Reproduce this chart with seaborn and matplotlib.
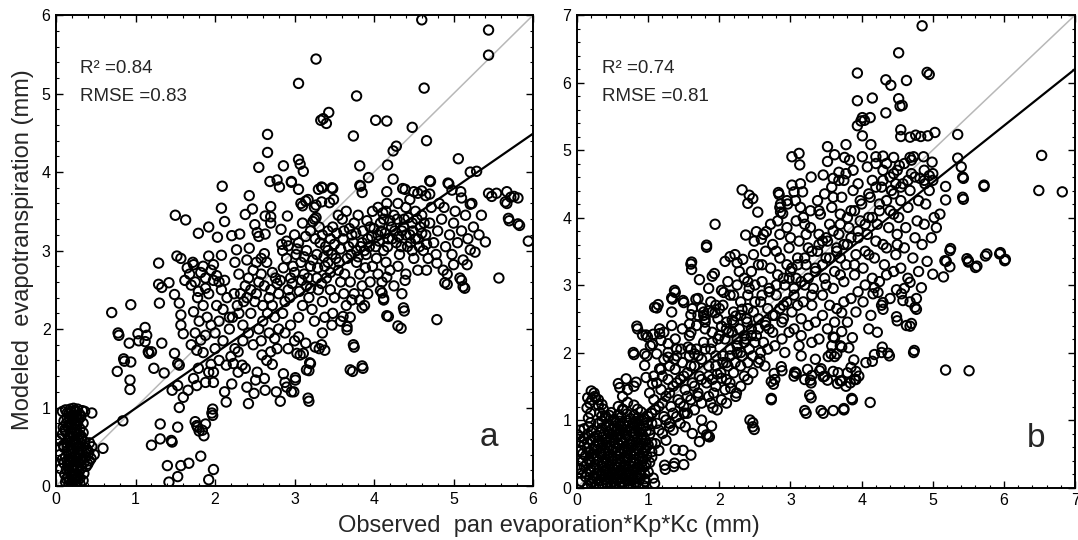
import numpy as np
import pandas as pd
import matplotlib

matplotlib.use("Agg")
import matplotlib.pyplot as plt
import seaborn as sns
from matplotlib.ticker import MultipleLocator

# Panel a: observed (x) vs modeled (y) ET
cluster_a = [
    (0.18, 0.98), (0.22, 0.99), (0.27, 0.98), (0.12, 0.97), (0.33, 0.96), (0.08, 0.95), (0.25, 0.94), (0.16, 0.92),
    (0.20, 0.90), (0.30, 0.91), (0.14, 0.87), (0.23, 0.86), (0.28, 0.84), (0.10, 0.83), (0.19, 0.81), (0.34, 0.80),
    (0.25, 0.78), (0.15, 0.76), (0.21, 0.74), (0.30, 0.73), (0.12, 0.70), (0.18, 0.69), (0.26, 0.68), (0.08, 0.66),
    (0.22, 0.64), (0.32, 0.63), (0.16, 0.61), (0.28, 0.60), (0.01, 0.58), (0.20, 0.57), (0.13, 0.55), (0.25, 0.54),
    (0.36, 0.56), (0.42, 0.55), (0.18, 0.52), (0.30, 0.51), (0.10, 0.49), (0.22, 0.48), (0.38, 0.48), (0.45, 0.50),
    (0.15, 0.45), (0.27, 0.44), (0.33, 0.43), (0.41, 0.42), (0.19, 0.41), (0.05, 0.40), (0.24, 0.38), (0.12, 0.37),
    (0.30, 0.36), (0.37, 0.37), (0.44, 0.35), (0.17, 0.34), (0.22, 0.32), (0.28, 0.30), (0.35, 0.30), (0.10, 0.29),
    (0.40, 0.28), (0.15, 0.27), (0.20, 0.25), (0.26, 0.24), (0.32, 0.23), (0.06, 0.22), (0.13, 0.21), (0.23, 0.20),
    (0.29, 0.18), (0.18, 0.17), (0.35, 0.16), (0.11, 0.15), (0.25, 0.14), (0.20, 0.12), (0.15, 0.11), (0.30, 0.10),
    (0.22, 0.09), (0.17, 0.07), (0.27, 0.06), (0.12, 0.05), (0.20, 0.04), (0.24, 0.02), (0.16, 0.01), (0.30, 0.03),
    (0.19, 0.02), (0.23, 0.55), (0.17, 0.63), (0.24, 0.72), (0.21, 0.85), (0.26, 0.90), (0.14, 0.50), (0.27, 0.50),
    (0.21, 0.45), (0.18, 0.30), (0.28, 0.40), (0.32, 0.60), (0.19, 0.95), (0.13, 0.80), (0.09, 0.75), (0.36, 0.95),
    (0.04, 0.60), (0.59, 0.48), (0.45, 0.93), (0.21, 0.20), (0.14, 0.93), (0.24, 0.96), (0.31, 0.88), (0.17, 0.86),
    (0.27, 0.79), (0.11, 0.72), (0.20, 0.67), (0.29, 0.66), (0.15, 0.58), (0.34, 0.68), (0.24, 0.59), (0.09, 0.52),
    (0.31, 0.47), (0.19, 0.47), (0.40, 0.45), (0.26, 0.35), (0.14, 0.32), (0.32, 0.33), (0.23, 0.27), (0.38, 0.25),
    (0.16, 0.22), (0.27, 0.21), (0.19, 0.14), (0.28, 0.13), (0.13, 0.09), (0.25, 0.08), (0.34, 0.07), (0.08, 0.34),
    (0.42, 0.32), (0.48, 0.40),
]

read_a = [
    (4.60, 5.94), (5.44, 5.81), (5.44, 5.49), (3.27, 5.44), (3.05, 5.13), (4.63, 5.07), (3.78, 4.97), (3.43, 4.76),
    (3.36, 4.68), (3.40, 4.62), (3.33, 4.66), (4.02, 4.66), (4.16, 4.65), (4.48, 4.57), (3.74, 4.46), (4.66, 4.40),
    (2.66, 4.48), (2.66, 4.25), (4.28, 4.33), (4.24, 4.27), (3.05, 4.16), (3.07, 4.10), (3.11, 4.01), (5.06, 4.17),
    (2.86, 4.08), (2.55, 4.06), (3.82, 4.08), (4.17, 4.09), (5.21, 4.00), (5.29, 4.01), (3.93, 3.93), (4.24, 3.91),
    (2.69, 3.88), (2.78, 3.90), (2.81, 3.81), (2.96, 3.87), (2.09, 3.82), (3.05, 3.78), (3.83, 3.82), (3.85, 3.74),
    (3.35, 3.80), (3.48, 3.79), (4.71, 3.88), (4.94, 3.85), (4.39, 3.78), (2.43, 3.70), (5.67, 3.75), (5.72, 3.68),
    (5.44, 3.73), (5.48, 3.69), (5.54, 3.73), (5.76, 3.69), (5.65, 3.62), (5.81, 3.67), (5.70, 3.38), (5.83, 3.32),
    (5.94, 3.12), (5.10, 3.67), (5.23, 3.60), (3.14, 3.63), (3.17, 3.65), (3.49, 3.65), (3.44, 3.61), (1.50, 3.45),
    (1.63, 3.39), (2.08, 3.54), (2.12, 3.37), (2.38, 3.46), (2.47, 3.53), (2.70, 3.56), (2.63, 3.44), (2.70, 3.43),
    (2.70, 3.35), (2.91, 3.44), (3.23, 3.37), (3.27, 3.42), (2.50, 3.33), (2.53, 3.23), (2.55, 3.18), (2.63, 3.21),
    (2.83, 3.27), (1.92, 3.30), (1.79, 3.22), (2.03, 3.17), (2.21, 3.19), (2.31, 3.21), (2.84, 3.08), (2.92, 3.06),
    (2.27, 3.01), (2.43, 3.03), (2.62, 2.96), (1.92, 2.93), (1.52, 2.93), (1.57, 2.90), (1.29, 2.84), (2.08, 2.94),
    (2.40, 2.88), (1.73, 2.82), (0.79, 1.92), (0.70, 2.21), (0.94, 2.31), (0.92, 1.82), (1.03, 1.94), (1.12, 2.02),
    (1.14, 1.92), (1.12, 1.84), (0.77, 1.46), (0.86, 1.59), (0.94, 1.58), (0.93, 1.35), (0.93, 1.23), (1.17, 1.69),
    (1.20, 1.71), (1.23, 1.50), (1.36, 1.44), (1.33, 1.82), (1.49, 1.69), (1.53, 1.56), (1.55, 1.54), (1.29, 2.57),
    (1.33, 2.53), (1.30, 2.33), (1.42, 2.59), (1.49, 2.44), (1.55, 2.33), (1.57, 2.18), (1.57, 2.05), (1.60, 1.94),
    (1.73, 2.22), (1.70, 2.56), (1.79, 2.48), (1.46, 1.22), (1.53, 1.28), (1.55, 1.00), (1.60, 1.13), (1.66, 1.22),
    (1.73, 1.37), (1.77, 1.28), (1.79, 1.50), (1.77, 1.73), (1.82, 1.86), (1.88, 1.92), (1.88, 1.32), (1.92, 1.45),
    (1.98, 1.45), (1.98, 1.32), (1.97, 0.98), (1.97, 0.90), (1.77, 0.77), (1.84, 0.71), (1.86, 0.64), (1.88, 0.79),
    (1.31, 0.79), (1.31, 0.60), (1.20, 0.52), (1.46, 0.56), (1.53, 0.75), (1.82, 0.38), (1.40, 0.26), (1.57, 0.26),
    (1.67, 0.29), (1.42, 0.05), (1.53, 0.12), (1.92, 0.08), (1.98, 0.21), (2.14, 1.07), (2.12, 1.20), (2.14, 1.54),
    (2.23, 1.56), (2.21, 1.30), (2.42, 1.05), (2.49, 1.18), (2.40, 1.26), (2.51, 1.35), (2.62, 1.37), (2.63, 1.22),
    (2.77, 1.20), (2.82, 1.08), (2.88, 1.32), (2.90, 1.26), (2.99, 1.20), (3.01, 1.35), (2.86, 1.43), (3.18, 1.08),
    (3.73, 1.46), (3.86, 1.50), (3.75, 1.77), (4.79, 2.12), (4.34, 2.01), (4.38, 2.23), (4.18, 2.16), (4.12, 2.39),
    (4.10, 2.46), (4.92, 2.57), (5.10, 2.62), (5.14, 2.52), (5.57, 2.65), (3.66, 2.03), (3.66, 1.99), (3.38, 1.73),
    (3.31, 1.75), (3.18, 1.47), (3.20, 1.56), (3.07, 1.67), (3.14, 1.82), (2.70, 1.71), (2.59, 1.67), (2.53, 1.45),
    (2.34, 1.54), (2.29, 1.45), (2.38, 1.50), (2.25, 1.75), (2.29, 1.71), (0.78, 1.95), (1.04, 1.85), (1.16, 1.71),
    (0.85, 1.62), (0.84, 0.83), (1.45, 0.58), (1.75, 0.82), (1.78, 0.75), (1.80, 0.70), (1.96, 0.93), (5.40, 3.11),
    (5.27, 2.98), (5.21, 3.01), (5.17, 2.82), (5.12, 2.88), (5.08, 2.65), (5.12, 2.54), (4.89, 2.59), (5.00, 2.82),
    (4.87, 2.75), (4.79, 2.84), (4.37, 2.27), (4.16, 2.17), (4.30, 2.04), (4.08, 2.49), (4.12, 2.37), (4.39, 2.62),
    (4.16, 2.66), (3.74, 1.80), (3.70, 1.48), (3.85, 1.53), (3.34, 1.80), (3.15, 1.48), (3.19, 1.57), (3.01, 1.38),
    (3.17, 1.12), (3.11, 1.69), (3.03, 1.69), (3.26, 1.77), (2.96, 1.20), (3.47, 2.05), (3.61, 2.16), (3.82, 2.37),
    (3.85, 2.27), (3.72, 2.37), (5.21, 3.59), (5.67, 3.60), (5.69, 3.41), (5.81, 3.34), (4.70, 3.89), (4.93, 3.86),
    (2.96, 3.88), (3.34, 3.81), (3.47, 3.80), (3.82, 3.83), (4.36, 3.79), (4.50, 3.75), (4.55, 3.73), (4.60, 3.76),
    (4.65, 3.70), (4.70, 3.72), (4.98, 3.77), (5.09, 3.75), (4.16, 3.75), (4.16, 3.60), (3.08, 3.60), (3.10, 3.57),
    (3.30, 3.78), (3.34, 3.62), (3.27, 3.58), (3.25, 3.55),
]

dense_a = [
    (1.62, 2.62), (1.68, 2.70), (1.75, 2.60), (1.82, 2.72), (1.88, 2.65), (1.95, 2.75), (2.02, 2.68), (1.65, 2.78),
    (1.72, 2.85), (1.85, 2.80), (1.98, 2.82), (2.05, 2.60), (1.78, 2.40), (1.85, 2.30), (1.90, 2.15), (1.95, 2.05),
    (2.00, 1.95), (2.05, 2.10), (2.10, 2.25), (2.15, 2.40), (2.08, 2.50), (1.92, 2.45), (1.80, 2.10), (1.75, 1.95),
    (1.70, 1.80), (1.85, 1.70), (2.00, 1.75), (2.10, 1.85), (2.18, 2.00), (2.20, 1.65), (2.05, 1.60), (1.95, 1.55),
    (2.22, 2.15), (2.28, 2.30), (2.32, 2.45), (2.38, 2.55), (2.42, 2.65), (2.48, 2.75), (2.52, 2.85), (2.58, 2.70),
    (2.62, 2.55), (2.68, 2.40), (2.72, 2.30), (2.75, 2.15), (2.45, 2.20), (2.35, 2.05), (2.42, 1.95), (2.55, 2.00),
    (2.60, 2.10), (2.50, 2.35), (2.30, 2.70), (2.25, 2.85), (2.65, 2.85), (2.72, 2.72), (2.78, 2.58), (2.80, 2.45),
    (2.48, 1.80), (2.58, 1.85), (2.68, 1.95), (2.75, 1.88), (2.80, 2.00), (2.35, 1.85), (2.65, 1.60), (2.72, 1.55),
    (2.78, 1.75), (2.55, 2.60), (2.40, 2.40), (2.85, 2.20), (2.88, 2.35), (2.92, 2.50), (2.95, 2.65), (2.98, 2.80),
    (3.02, 2.95), (3.05, 3.10), (3.08, 2.85), (3.12, 2.70), (3.15, 2.55), (3.18, 2.40), (3.22, 2.25), (3.25, 2.10),
    (3.28, 2.95), (3.32, 3.10), (3.35, 3.20), (3.38, 2.80), (3.40, 2.65), (2.88, 1.95), (2.95, 2.05), (3.00, 1.85),
    (3.05, 2.15), (3.10, 2.30), (3.15, 3.00), (3.20, 3.25), (3.25, 3.40), (3.30, 2.50), (3.35, 2.35), (3.38, 2.15),
    (2.90, 2.90), (2.85, 3.00), (3.00, 3.20), (3.10, 3.35), (3.20, 2.80), (3.28, 2.65), (3.35, 1.95), (2.92, 1.75),
    (3.05, 1.90), (3.42, 3.00), (3.45, 3.15), (3.48, 3.30), (3.52, 2.90), (3.55, 2.75), (3.58, 2.60), (3.62, 2.45),
    (3.65, 2.30), (3.68, 3.05), (3.72, 3.20), (3.75, 3.35), (3.78, 2.85), (3.82, 2.70), (3.85, 2.55), (3.88, 3.00),
    (3.92, 3.15), (3.95, 3.30), (3.98, 2.80), (3.45, 2.50), (3.50, 2.40), (3.55, 3.45), (3.60, 3.40), (3.65, 3.50),
    (3.70, 2.60), (3.75, 2.45), (3.80, 3.45), (3.85, 3.10), (3.90, 2.95), (3.95, 2.60), (3.48, 2.20), (3.58, 2.10),
    (3.70, 2.15), (3.88, 2.30), (3.92, 2.45), (3.42, 2.85), (3.62, 3.25), (3.78, 3.00), (3.98, 3.50), (4.02, 3.05),
    (4.05, 3.20), (4.08, 3.35), (4.12, 3.00), (4.15, 2.85), (4.18, 3.15), (4.22, 3.30), (4.25, 3.45), (4.28, 3.10),
    (4.32, 2.95), (4.35, 3.25), (4.38, 3.40), (4.42, 3.05), (4.45, 3.20), (4.48, 3.35), (4.52, 3.50), (4.55, 3.15),
    (4.58, 3.30), (4.05, 2.70), (4.10, 2.60), (4.20, 2.75), (4.30, 2.80), (4.40, 2.70), (4.50, 2.90), (4.55, 2.75),
    (4.60, 3.45), (4.05, 3.55), (4.15, 3.50), (4.30, 3.60), (4.40, 3.55), (4.45, 3.65), (4.25, 2.55), (4.35, 2.45),
    (4.48, 3.00), (4.62, 3.00), (4.12, 3.40), (4.65, 3.20), (4.70, 3.35), (4.75, 3.10), (4.80, 3.25), (4.85, 3.40),
    (4.90, 3.05), (4.95, 3.20), (5.00, 3.35), (5.05, 3.10), (5.10, 3.25), (4.68, 2.90), (4.78, 2.95), (4.88, 3.55),
    (4.98, 2.95), (4.72, 3.55), (4.82, 3.60), (5.02, 3.50), (5.15, 3.45), (4.66, 2.75), (4.92, 2.70), (5.18, 3.15),
    (5.25, 3.30), (5.32, 3.20), (5.35, 3.45),
]

core_a = [
    (2.82, 2.62), (2.86, 2.78), (2.90, 3.12), (2.94, 2.40), (2.97, 2.58), (3.00, 2.72), (3.03, 3.02), (3.06, 2.48),
    (3.09, 2.62), (3.12, 2.92), (3.14, 3.18), (3.17, 2.65), (3.20, 2.52), (3.23, 2.88), (3.26, 3.15), (3.29, 2.78),
    (3.31, 3.30), (3.34, 2.58), (3.37, 2.92), (3.39, 3.05), (3.42, 3.25), (3.45, 2.72), (3.47, 2.95), (3.50, 3.08),
    (3.53, 3.22), (3.56, 2.85), (3.58, 3.02), (3.61, 3.15), (3.63, 2.70), (3.66, 2.90), (3.69, 3.28), (3.71, 2.95),
    (3.74, 3.10), (3.77, 3.22), (3.80, 2.92), (3.83, 3.05), (3.86, 3.25), (3.89, 2.78), (3.91, 3.38), (3.94, 3.05),
    (3.97, 3.18), (4.00, 3.28), (4.03, 2.90), (4.06, 3.12), (4.09, 3.25), (4.11, 3.48), (4.14, 3.22), (4.17, 3.05),
    (4.20, 3.38), (4.23, 3.15), (4.26, 3.25), (4.29, 3.40), (4.31, 3.18), (4.34, 3.05), (4.37, 3.30), (4.40, 3.20),
    (4.43, 3.42), (4.46, 3.10), (4.49, 3.25), (4.52, 3.15), (4.54, 3.40), (4.57, 3.05), (4.60, 3.22), (4.63, 3.35),
    (4.66, 3.08), (2.45, 2.50), (2.52, 2.45), (2.60, 2.30), (2.66, 2.20), (2.70, 2.50), (2.76, 2.65), (2.30, 2.20),
    (2.36, 2.35), (2.18, 2.15), (2.24, 2.45), (2.58, 2.90), (2.02, 2.30), (1.98, 2.62), (1.88, 2.52), (2.12, 2.62),
]

# Panel b
cluster_b = [
    (0.15, 0.02), (0.26, 0.01), (0.36, 0.03), (0.47, 0.02), (0.55, 0.01), (0.66, 0.03), (0.76, 0.02), (0.86, 0.01),
    (0.93, 0.03), (0.06, 0.09), (0.21, 0.08), (0.31, 0.10), (0.41, 0.07), (0.51, 0.09), (0.61, 0.08), (0.71, 0.10),
    (0.81, 0.07), (0.96, 0.09), (0.12, 0.16), (0.23, 0.14), (0.34, 0.17), (0.44, 0.15), (0.53, 0.16), (0.64, 0.14),
    (0.73, 0.17), (0.84, 0.15), (0.90, 0.18), (0.18, 0.23), (0.28, 0.21), (0.39, 0.24), (0.49, 0.22), (0.59, 0.23),
    (0.69, 0.21), (0.79, 0.24), (0.89, 0.22), (1.00, 0.23), (0.10, 0.31), (0.24, 0.29), (0.35, 0.32), (0.46, 0.30),
    (0.56, 0.31), (0.66, 0.29), (0.75, 0.32), (0.85, 0.30), (0.95, 0.31), (0.08, 0.39), (0.18, 0.37), (0.30, 0.40),
    (0.41, 0.38), (0.50, 0.39), (0.61, 0.37), (0.70, 0.40), (0.80, 0.38), (0.92, 0.39), (1.02, 0.37), (0.12, 0.47),
    (0.23, 0.45), (0.35, 0.48), (0.45, 0.46), (0.55, 0.47), (0.66, 0.45), (0.75, 0.48), (0.88, 0.46), (0.98, 0.47),
    (0.05, 0.55), (0.18, 0.53), (0.28, 0.56), (0.40, 0.54), (0.50, 0.55), (0.61, 0.53), (0.72, 0.56), (0.82, 0.54),
    (0.95, 0.55), (1.05, 0.53), (0.10, 0.63), (0.25, 0.61), (0.36, 0.64), (0.46, 0.62), (0.58, 0.63), (0.68, 0.61),
    (0.78, 0.64), (0.90, 0.62), (1.00, 0.63), (0.20, 0.71), (0.30, 0.69), (0.42, 0.72), (0.52, 0.70), (0.62, 0.71),
    (0.75, 0.69), (0.85, 0.72), (0.96, 0.70), (0.15, 0.79), (0.28, 0.77), (0.38, 0.80), (0.50, 0.78), (0.60, 0.79),
    (0.70, 0.77), (0.82, 0.80), (0.92, 0.78), (1.02, 0.79), (0.10, 0.87), (0.22, 0.85), (0.35, 0.88), (0.48, 0.86),
    (0.58, 0.87), (0.68, 0.85), (0.80, 0.88), (0.90, 0.86), (0.30, 0.95), (0.45, 0.93), (0.55, 0.96), (0.65, 0.94),
    (0.78, 0.95), (0.88, 0.93), (0.98, 0.96), (0.40, 1.03), (0.52, 1.01), (0.62, 1.04), (0.75, 1.02), (0.85, 1.03),
    (0.95, 1.01), (0.48, 1.11), (0.70, 1.09), (0.90, 1.12), (1.05, 1.10), (0.58, 1.20), (0.80, 1.22),
    (0.20, 0.05), (0.31, 0.05), (0.42, 0.05), (0.52, 0.05), (0.62, 0.06), (0.72, 0.05), (0.83, 0.05), (0.95, 0.13),
    (0.18, 0.12), (0.28, 0.13), (0.38, 0.12), (0.48, 0.12), (0.58, 0.12), (0.68, 0.12), (0.78, 0.12), (0.88, 0.12),
    (0.14, 0.20), (0.24, 0.18), (0.34, 0.20), (0.44, 0.19), (0.54, 0.20), (0.64, 0.19), (0.74, 0.20), (0.84, 0.19),
    (0.95, 0.20), (0.05, 0.27), (0.19, 0.27), (0.30, 0.26), (0.41, 0.27), (0.51, 0.27), (0.61, 0.26), (0.71, 0.27),
    (0.80, 0.27), (0.90, 0.26), (0.14, 0.35), (0.25, 0.34), (0.36, 0.36), (0.46, 0.34), (0.56, 0.35), (0.66, 0.34),
    (0.76, 0.36), (0.86, 0.34), (0.97, 0.35), (0.17, 0.42), (0.28, 0.43), (0.40, 0.42), (0.50, 0.43), (0.60, 0.42),
    (0.70, 0.44), (0.83, 0.42), (0.93, 0.43), (0.08, 0.50), (0.22, 0.50), (0.32, 0.51), (0.44, 0.50), (0.60, 0.50),
    (0.70, 0.51), (0.80, 0.50), (0.92, 0.51), (0.14, 0.58), (0.24, 0.57), (0.34, 0.59), (0.45, 0.58), (0.55, 0.59),
    (0.66, 0.57), (0.76, 0.59), (0.86, 0.58), (0.97, 0.59), (0.15, 0.66), (0.30, 0.65), (0.41, 0.67), (0.52, 0.66),
    (0.63, 0.67), (0.73, 0.65), (0.83, 0.67), (0.93, 0.66), (1.05, 0.66), (0.10, 0.73), (0.25, 0.74), (0.36, 0.75),
    (0.47, 0.74), (0.57, 0.75), (0.68, 0.74), (0.80, 0.75), (0.90, 0.74), (0.20, 0.82), (0.33, 0.83), (0.44, 0.82),
    (0.55, 0.83), (0.65, 0.82), (0.76, 0.83), (0.87, 0.82), (0.97, 0.83), (0.16, 0.90), (0.40, 0.90), (0.52, 0.91),
    (0.62, 0.90), (0.72, 0.91), (0.84, 0.90), (0.94, 0.91), (0.35, 0.98), (0.50, 0.99), (0.60, 0.98), (0.70, 0.99),
    (0.82, 0.98), (0.92, 0.99), (0.45, 1.07), (0.58, 1.08), (0.80, 1.07), (1.00, 1.05), (0.65, 1.15), (0.85, 1.16),
]

read_b = [
    (4.85, 6.84), (4.52, 6.44), (4.92, 6.15), (4.95, 6.12), (3.94, 6.14), (4.34, 6.04), (4.41, 5.96), (4.63, 6.03),
    (3.94, 5.73), (4.15, 5.77), (4.34, 5.55), (4.52, 5.76), (4.54, 5.65), (4.57, 5.66), (4.01, 5.48), (4.04, 5.44),
    (3.99, 5.43), (4.12, 5.48), (3.94, 5.36), (4.01, 5.21), (4.55, 5.30), (4.55, 5.20), (4.68, 5.19), (4.76, 5.22),
    (4.83, 5.20), (4.93, 5.21), (5.03, 5.26), (5.35, 5.23), (6.53, 4.92), (6.49, 4.40), (6.82, 4.38), (5.72, 4.48),
    (5.72, 4.46), (5.35, 4.88), (5.40, 4.75), (5.43, 4.58), (5.43, 4.27), (5.18, 4.46), (5.18, 4.26), (5.10, 4.05),
    (3.52, 5.05), (3.62, 4.93), (3.52, 4.83), (3.78, 5.08), (3.02, 4.90), (3.12, 4.95), (3.13, 4.78), (4.13, 5.08),
    (4.01, 4.90), (3.76, 4.89), (3.83, 4.85), (4.20, 4.90), (4.30, 4.91), (4.45, 4.89), (4.53, 4.77), (4.68, 4.89),
    (4.73, 4.90), (4.87, 4.90), (4.99, 4.82), (5.00, 4.55), (4.89, 4.50), (2.32, 4.41), (2.42, 4.33), (2.47, 4.28),
    (2.40, 4.21), (2.54, 4.08), (1.94, 3.90), (1.82, 3.56), (1.60, 3.31), (2.37, 3.74), (2.52, 3.79), (2.66, 3.79),
    (2.49, 3.65), (2.59, 3.68), (2.83, 4.37), (2.86, 4.20), (2.86, 4.08), (2.95, 4.25), (3.05, 4.38), (3.17, 4.38),
    (3.07, 4.25), (3.14, 4.15), (3.46, 4.63), (3.60, 4.58), (3.68, 4.67), (3.75, 4.55), (2.08, 3.35), (2.15, 3.42),
    (2.22, 3.45), (2.25, 3.33), (2.33, 3.38), (3.02, 4.48), (3.14, 4.50), (3.29, 4.60), (5.50, 3.36), (5.60, 3.26),
    (5.74, 3.43), (5.94, 3.46), (6.01, 3.36), (5.24, 3.51), (5.19, 3.35), (5.24, 3.27), (5.18, 1.74), (5.51, 1.73),
    (4.12, 1.26), (4.73, 2.00), (4.68, 2.39), (4.77, 2.64), (4.68, 2.75), (4.50, 2.47), (4.39, 1.95), (4.15, 1.87),
    (4.06, 1.85), (4.18, 1.97), (4.28, 2.00), (4.13, 2.55), (4.30, 2.64), (4.30, 2.74), (4.23, 2.89), (4.16, 2.87),
    (4.18, 2.96), (3.89, 1.89), (3.92, 1.72), (3.96, 1.65), (3.92, 1.60), (3.84, 1.55), (3.87, 1.30), (3.72, 1.58),
    (3.67, 1.70), (3.60, 1.72), (3.62, 1.94), (3.53, 1.94), (3.75, 1.15), (3.60, 1.14), (3.46, 1.10), (3.22, 1.10),
    (3.29, 1.33), (3.29, 1.55), (3.24, 1.75), (3.07, 1.70), (3.05, 1.65), (3.41, 1.73), (3.48, 1.65), (2.73, 1.30),
    (2.47, 0.96), (2.49, 0.86), (2.76, 1.53), (2.78, 1.60), (2.88, 1.73), (3.72, 2.31), (3.70, 2.10), (3.62, 2.22),
    (3.58, 2.10), (3.82, 2.07), (3.87, 2.22), (3.72, 2.59), (2.47, 1.95), (2.57, 1.90), (2.64, 1.80), (2.47, 1.70),
    (2.40, 1.60), (2.30, 1.50), (2.23, 1.35), (2.16, 1.47), (2.03, 1.30), (1.91, 1.18), (1.84, 0.76), (1.72, 0.68),
    (1.77, 0.86), (1.60, 0.48), (1.50, 0.34), (1.38, 0.56), (1.36, 0.31), (1.24, 0.27), (1.09, 0.06), (0.85, 2.35),
    (0.80, 1.97), (0.98, 1.95), (1.03, 2.10), (1.07, 2.27), (1.12, 2.66), (1.14, 2.71), (0.99, 2.23), (1.38, 2.89),
    (1.34, 2.79), (1.50, 2.74), (1.67, 2.79), (1.75, 2.66), (1.60, 2.56), (1.58, 2.42), (1.72, 3.08), (1.90, 3.13),
    (2.06, 2.89), (1.94, 2.59), (2.03, 2.39), (2.13, 2.30), (2.23, 2.54), (2.18, 2.48), (2.32, 2.64), (2.39, 2.45),
    (2.37, 2.20), (2.25, 2.20), (0.64, 1.35), (0.71, 1.45), (0.80, 1.50), (0.71, 1.26), (0.64, 1.16), (0.20, 1.43),
    (0.25, 1.35), (0.30, 1.30), (0.35, 1.23), (0.37, 1.16), (0.32, 1.11), (0.40, 1.06), (0.15, 1.33), (0.18, 1.25),
    (0.01, 0.78), (0.06, 0.68), (0.00, 0.29), (0.06, 0.21), (1.82, 3.59), (1.61, 3.34), (1.61, 3.23), (1.93, 3.17),
    (2.03, 2.92), (1.37, 2.92), (1.33, 2.81), (1.09, 2.67), (1.33, 2.60), (1.49, 2.77), (1.62, 2.65), (1.70, 2.55),
    (1.78, 2.55), (1.85, 2.62), (1.90, 2.60), (1.80, 2.50), (0.84, 2.39), (0.92, 2.26), (0.97, 2.26), (1.06, 2.12),
    (1.16, 2.28), (1.18, 2.18), (1.28, 2.13), (1.16, 2.35), (1.22, 2.30), (0.79, 2.00), (0.95, 1.98), (0.95, 1.81),
    (1.12, 1.98), (1.16, 1.76), (1.28, 1.93), (1.30, 1.80), (1.37, 1.90), (1.46, 2.05), (1.56, 2.08), (1.65, 1.98),
    (0.58, 1.54), (0.60, 1.48), (0.69, 1.61), (0.83, 1.56), (0.97, 1.63), (1.06, 1.54), (0.24, 1.40), (0.26, 1.33),
    (0.21, 1.30), (0.14, 1.18), (0.19, 1.10), (0.16, 1.03), (0.19, 0.96), (0.30, 1.22), (0.35, 1.06), (0.04, 0.85),
    (0.04, 0.75), (1.51, 1.10), (1.75, 1.00), (1.89, 0.91), (1.86, 0.75), (1.82, 0.78), (1.49, 0.55), (2.43, 1.00),
    (2.47, 0.90), (2.73, 1.32), (3.20, 1.14), (3.43, 1.14), (3.27, 1.37), (3.28, 1.59), (3.06, 1.71), (3.08, 1.69),
    (3.43, 1.76), (2.87, 1.79), (2.77, 1.69), (2.73, 1.57), (1.97, 1.15), (1.88, 1.25), (2.10, 1.25), (2.24, 1.40),
    (2.15, 1.55), (2.03, 1.62), (1.97, 1.68), (1.37, 0.36), (1.23, 0.33), (1.07, 0.14), (4.74, 2.03), (4.37, 1.99),
    (4.29, 2.08), (3.86, 1.32), (3.75, 1.17), (3.85, 1.78), (3.80, 1.70), (3.90, 1.60), (3.78, 1.50), (3.70, 1.58),
    (3.66, 1.54), (3.52, 1.59), (3.46, 1.64), (3.30, 1.66), (3.20, 1.60), (3.60, 2.23), (3.57, 1.98), (3.65, 1.98),
    (3.72, 2.08), (5.76, 3.46), (5.95, 3.48), (6.02, 3.38), (5.48, 3.39), (5.50, 3.34), (5.62, 3.28), (5.25, 3.54),
    (5.17, 3.36), (5.15, 3.12), (5.00, 3.16), (4.84, 2.96), (4.77, 2.80), (4.75, 2.67), (4.68, 3.04), (4.56, 2.87),
    (4.58, 2.77), (4.49, 2.93), (4.49, 2.53), (4.63, 2.40), (4.70, 2.43), (2.84, 4.34), (2.85, 4.15), (2.89, 4.06),
    (2.96, 4.20), (5.42, 4.60), (5.42, 4.30), (5.00, 4.65), (4.95, 4.62), (4.88, 4.55), (4.82, 4.58),
]

dense_b = [
    (1.02, 0.85), (1.05, 1.10), (1.08, 1.30), (1.10, 0.65), (1.12, 0.95), (1.15, 1.20), (1.18, 1.45), (1.20, 0.80),
    (1.22, 1.05), (1.25, 1.35), (1.28, 1.60), (1.30, 0.95), (1.32, 1.20), (1.35, 1.50), (1.38, 1.75), (1.40, 1.05),
    (1.42, 1.30), (1.45, 1.60), (1.48, 1.85), (1.50, 1.20), (1.05, 0.45), (1.15, 0.55), (1.25, 0.70), (1.35, 0.85),
    (1.45, 0.95), (1.08, 1.65), (1.18, 1.75), (1.28, 2.00), (1.38, 2.20), (1.48, 2.35), (1.12, 1.55), (1.22, 1.90),
    (1.02, 1.40), (1.40, 1.95), (1.33, 2.40), (1.52, 1.45), (1.55, 1.70), (1.58, 1.95), (1.60, 1.30), (1.62, 1.55),
    (1.65, 1.80), (1.68, 2.05), (1.70, 1.40), (1.72, 1.65), (1.75, 1.90), (1.78, 2.15), (1.80, 2.35), (1.82, 1.55),
    (1.85, 1.80), (1.88, 2.05), (1.90, 2.30), (1.92, 1.40), (1.95, 1.95), (1.98, 2.20), (1.55, 1.10), (1.65, 1.15),
    (1.75, 1.25), (1.85, 1.35), (1.95, 1.50), (1.58, 2.25), (1.68, 2.40), (1.78, 2.60), (1.88, 2.75), (1.98, 2.50),
    (1.52, 0.90), (1.62, 0.80), (1.70, 2.80), (1.85, 2.95), (1.95, 2.70), (1.60, 2.05), (2.02, 1.70), (2.05, 1.95),
    (2.08, 2.20), (2.10, 2.45), (2.12, 1.80), (2.15, 2.05), (2.18, 2.30), (2.20, 2.60), (2.22, 1.85), (2.25, 2.10),
    (2.28, 2.35), (2.30, 2.75), (2.32, 1.95), (2.35, 2.25), (2.38, 2.50), (2.40, 2.85), (2.42, 2.05), (2.45, 2.35),
    (2.48, 2.60), (2.50, 3.00), (2.05, 2.70), (2.15, 2.85), (2.25, 3.00), (2.35, 3.10), (2.45, 3.20), (2.10, 1.60),
    (2.20, 1.70), (2.30, 1.80), (2.40, 1.85), (2.12, 3.05), (2.28, 3.20), (2.42, 2.95), (2.08, 1.45), (2.35, 1.65),
    (2.48, 3.45), (2.52, 2.25), (2.55, 2.50), (2.58, 2.75), (2.60, 3.05), (2.62, 2.15), (2.65, 2.40), (2.68, 2.65),
    (2.70, 2.95), (2.72, 3.25), (2.75, 2.30), (2.78, 2.55), (2.80, 2.85), (2.82, 3.15), (2.85, 3.40), (2.88, 2.45),
    (2.90, 2.70), (2.92, 3.00), (2.95, 3.30), (2.98, 3.55), (2.55, 3.30), (2.65, 3.50), (2.75, 3.60), (2.85, 3.75),
    (2.95, 3.85), (2.58, 2.00), (2.68, 2.05), (2.78, 2.10), (2.88, 2.20), (2.98, 2.30), (2.62, 3.75), (2.72, 3.90),
    (2.82, 3.95), (2.92, 2.00), (2.55, 1.85), (2.98, 3.10), (3.02, 2.60), (3.05, 2.85), (3.08, 3.10), (3.10, 3.40),
    (3.12, 3.65), (3.15, 2.50), (3.18, 2.75), (3.20, 3.00), (3.22, 3.30), (3.25, 3.55), (3.28, 3.85), (3.30, 2.70),
    (3.32, 2.95), (3.35, 3.20), (3.38, 3.50), (3.40, 3.75), (3.42, 4.05), (3.45, 2.85), (3.48, 3.10), (3.50, 3.40),
    (3.05, 2.35), (3.15, 2.25), (3.25, 2.40), (3.35, 2.45), (3.45, 2.55), (3.08, 3.95), (3.18, 4.00), (3.28, 4.10),
    (3.38, 4.25), (3.48, 4.35), (3.12, 2.10), (3.30, 2.15), (3.45, 3.65), (3.02, 3.25), (3.22, 3.75), (3.40, 2.20),
    (3.15, 1.95), (3.35, 1.90), (3.52, 3.65), (3.55, 3.90), (3.58, 4.15), (3.60, 2.95), (3.62, 3.20), (3.65, 3.50),
    (3.68, 3.75), (3.70, 4.05), (3.72, 4.30), (3.75, 3.05), (3.78, 3.30), (3.80, 3.60), (3.82, 3.85), (3.85, 4.10),
    (3.88, 4.40), (3.90, 3.15), (3.92, 3.45), (3.95, 3.70), (3.98, 3.95), (3.55, 2.70), (3.65, 2.65), (3.75, 2.75),
    (3.85, 2.80), (3.95, 2.90), (3.58, 4.45), (3.68, 4.55), (3.78, 4.65), (3.88, 4.70), (3.98, 4.25), (3.62, 2.45),
    (3.80, 2.45), (3.92, 2.60), (3.52, 2.35), (3.70, 3.40), (3.95, 4.50), (4.02, 3.25), (4.05, 3.50), (4.08, 3.75),
    (4.10, 4.00), (4.12, 4.30), (4.15, 4.55), (4.18, 3.40), (4.20, 3.65), (4.22, 3.90), (4.25, 4.20), (4.28, 4.45),
    (4.30, 4.70), (4.32, 3.30), (4.35, 3.55), (4.38, 3.85), (4.40, 4.10), (4.42, 4.40), (4.45, 4.65), (4.48, 3.45),
    (4.50, 3.75), (4.05, 3.00), (4.15, 3.10), (4.25, 3.05), (4.35, 3.15), (4.45, 3.20), (4.08, 4.75), (4.20, 4.80),
    (4.35, 4.80), (4.48, 4.50), (4.02, 2.75), (4.40, 2.80), (4.28, 2.70), (4.10, 2.35), (4.22, 2.30), (4.45, 4.05),
    (4.52, 4.00), (4.55, 4.25), (4.58, 4.50), (4.60, 3.55), (4.62, 3.85), (4.65, 4.15), (4.68, 4.40), (4.70, 4.65),
    (4.72, 3.40), (4.75, 3.70), (4.78, 3.95), (4.80, 4.25), (4.85, 3.60), (4.88, 3.90), (4.90, 4.20), (4.95, 4.40),
    (4.55, 3.25), (4.65, 3.10), (4.80, 3.20), (4.92, 3.35), (4.98, 3.70), (5.02, 4.00), (5.05, 3.85), (4.60, 2.95),
    (4.88, 4.70),
]

core_b = [
    (1.05, 0.95), (1.10, 1.15), (1.15, 0.85), (1.20, 1.25), (1.25, 1.00), (1.30, 1.40), (1.35, 1.10), (1.40, 1.55),
    (1.45, 1.25), (1.50, 1.65), (1.55, 1.35), (1.60, 1.80), (1.65, 1.50), (1.70, 1.95), (1.75, 1.60), (1.80, 2.05),
    (1.85, 1.65), (1.90, 2.15), (1.95, 1.80), (2.00, 2.25), (2.05, 1.85), (2.10, 2.35), (2.15, 1.95), (2.20, 2.45),
    (2.25, 2.00), (2.30, 2.55), (2.35, 2.15), (2.40, 2.65), (2.45, 2.25), (2.50, 2.75), (2.55, 2.35), (2.60, 2.85),
    (2.65, 2.45), (2.70, 2.90), (2.75, 2.55), (2.80, 3.00), (2.85, 2.65), (2.90, 3.10), (2.95, 2.75), (3.00, 3.20),
    (3.05, 2.95), (3.10, 3.30), (3.15, 3.05), (3.20, 3.40), (3.25, 3.10), (3.30, 3.50), (3.35, 3.25), (3.40, 3.60),
    (3.45, 3.30), (3.50, 3.70), (3.55, 3.40), (3.60, 3.80), (3.65, 3.55), (3.70, 3.90), (3.75, 3.60), (3.80, 4.00),
    (3.85, 3.70), (3.90, 4.10), (3.95, 3.80), (4.00, 4.20), (4.05, 3.90), (4.10, 4.35), (4.15, 4.00), (4.20, 4.45),
    (4.25, 4.10), (4.30, 4.55), (4.35, 4.25), (4.40, 4.60), (4.45, 4.35), (4.50, 4.70), (4.55, 4.45), (4.60, 4.80),
    (4.65, 4.55), (4.70, 4.85), (4.75, 4.60), (3.10, 2.70), (3.30, 2.85), (3.50, 3.00), (3.70, 3.15), (3.90, 3.30),
    (4.10, 3.45), (4.30, 3.60), (4.50, 3.60), (2.90, 2.50), (2.70, 2.35), (2.50, 2.15), (2.30, 2.00), (2.10, 1.85),
    (1.90, 1.60), (1.70, 1.35), (1.50, 1.10), (1.30, 0.90), (3.60, 4.30), (3.40, 4.10), (3.20, 3.90), (3.00, 3.70),
    (2.80, 3.50), (2.60, 3.30), (2.40, 3.05), (2.20, 2.85), (2.00, 2.65), (1.80, 2.45), (1.60, 2.30), (1.40, 2.05),
    (1.20, 1.65),
]

# regression lines (slope, intercept) and stats
fit_a = (0.70, 0.29)
fit_b = (0.84, 0.32)
stats_a = ("R\u00b2 =0.84", "RMSE =0.83")
stats_b = ("R\u00b2 =0.74", "RMSE =0.81")
lim_a = 6
lim_b = 7


def to_frame(*groups):
    pts = [p for g in groups for p in g]
    return pd.DataFrame(pts, columns=["obs", "mod"])


def draw_panel(ax, df, lim, fit, stats, tag):
    xs = np.array([0.0, lim])
    ax.plot(xs, xs, color="#b8b8b8", lw=1.1, zorder=1)
    sns.scatterplot(data=df, x="obs", y="mod", ax=ax, marker="o", s=46,
                    facecolors="none", edgecolor="black", linewidth=1.4,
                    legend=False, zorder=2)
    xf = np.array([0.15, lim])
    ax.plot(xf, fit[0] * xf + fit[1], color="black", lw=1.6, zorder=3)

    ax.set_xlim(0, lim)
    ax.set_ylim(0, lim)
    ax.xaxis.set_major_locator(MultipleLocator(1))
    ax.yaxis.set_major_locator(MultipleLocator(1))
    ax.xaxis.set_minor_locator(MultipleLocator(0.2))
    ax.yaxis.set_minor_locator(MultipleLocator(0.2))
    ax.tick_params(which="both", direction="in", top=True, right=True,
                   colors="black", labelsize=11.5, pad=4)
    ax.tick_params(which="major", length=5, width=1.0)
    ax.tick_params(which="minor", length=2.5, width=0.8)
    for sp in ax.spines.values():
        sp.set_linewidth(1.4)
        sp.set_color("black")
    ax.set_xlabel("")
    ax.set_ylabel("")

    ax.text(0.05, 0.887, stats[0], transform=ax.transAxes, fontsize=13.5, va="center")
    ax.text(0.05, 0.828, stats[1], transform=ax.transAxes, fontsize=13.5, va="center")
    ax.text(tag[1], 0.104, tag[0], transform=ax.transAxes, fontsize=24, ha="center", va="center")


sns.set_style("ticks")
plt.rcParams["font.family"] = ["Liberation Sans", "DejaVu Sans"]

fig = plt.figure(figsize=(10.78, 5.4), dpi=100)
ax_a = fig.add_axes([0.052, 0.100, 0.4425, 0.872])
ax_b = fig.add_axes([0.5353, 0.0972, 0.4620, 0.875])

draw_panel(ax_a, to_frame(cluster_a, read_a, dense_a, core_a), lim_a, fit_a, stats_a, ("a", 0.908))
draw_panel(ax_b, to_frame(cluster_b, read_b, dense_b, core_b), lim_b, fit_b, stats_b, ("b", 0.922))

fig.text(0.021, 0.537, "Modeled  evapotranspiration (mm)", rotation=90,
         fontsize=17, ha="center", va="center")
fig.text(0.509, 0.026, "Observed  pan evaporation*Kp*Kc (mm)",
         fontsize=17, ha="center", va="center")

fig.savefig("out.png", dpi=100)
